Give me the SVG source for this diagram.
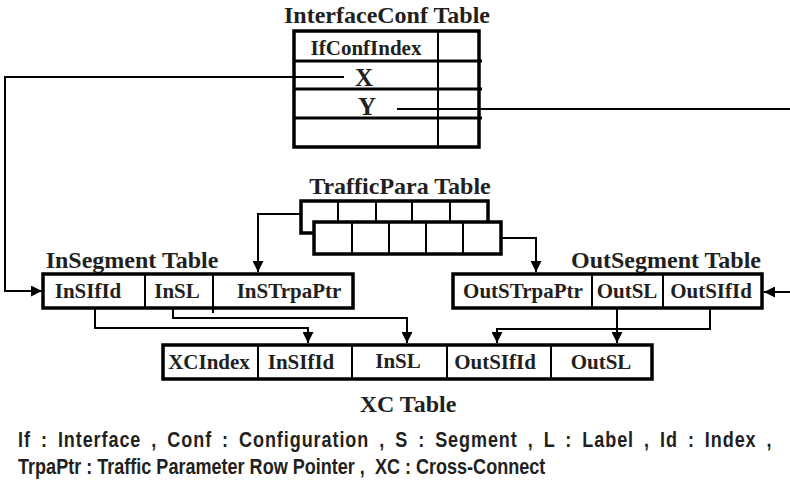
<svg xmlns="http://www.w3.org/2000/svg" width="790" height="483" viewBox="0 0 790 483">
<defs>
<marker id="arr" viewBox="0 0 10 10" refX="10" refY="5" markerWidth="11" markerHeight="11" markerUnits="userSpaceOnUse" orient="auto"><path d="M0,0 L10,5 L0,10 z" fill="#000"/></marker>
</defs>
<style>
.title{font-family:"Liberation Serif","Times New Roman",serif;font-weight:bold;font-size:24px;fill:#231f20;text-anchor:middle}
.cell{font-family:"Liberation Serif","Times New Roman",serif;font-weight:bold;font-size:21px;fill:#231f20;text-anchor:middle}
.big{font-size:25px}
.box{fill:#fff;stroke:#000;stroke-width:3.5}
.div{stroke:#000;stroke-width:2;fill:none}
.row{stroke:#000;stroke-width:3;fill:none}
.conn{stroke:#000;stroke-width:2;fill:none}
.arr{marker-end:url(#arr)}
.note{font-family:"Liberation Sans",Arial,sans-serif;font-weight:bold;font-size:22px;fill:#231f20}
</style>
<rect width="790" height="483" fill="#fff"/>

<g id="interfaceconf">
<text class="title" x="387" y="23">InterfaceConf Table</text>
<rect class="box" x="294" y="31" width="185" height="116"/>
<path class="row" d="M294,61 H482 M294,89 H482 M294,118 H482"/>
<path class="div" d="M438,31 V147"/>
<text class="cell" x="366" y="55">IfConfIndex</text>
<text class="cell big" x="364" y="86">X</text>
<text class="cell big" x="367" y="115">Y</text>
</g>

<g id="trafficpara">
<text class="title" x="400" y="194">TrafficPara Table</text>
<rect class="box" x="301" y="201" width="187" height="32"/>
<path class="div" d="M338,201 V222 M376,201 V222 M412,201 V222 M450,201 V222"/>
<rect class="box" x="314" y="222" width="187" height="32"/>
<path class="div" d="M352,222 V254 M389,222 V254 M426,222 V254 M463,222 V254"/>
</g>

<g id="insegment">
<text class="title" x="132" y="268">InSegment Table</text>
<rect class="box" x="43" y="274" width="310" height="34"/>
<path class="div" d="M145,274 V308 M213,274 V313"/>
<text class="cell" x="88" y="298">InSIfId</text>
<text class="cell" x="177" y="298">InSL</text>
<text class="cell" x="289" y="298">InSTrpaPtr</text>
</g>

<g id="outsegment">
<text class="title" x="666" y="268">OutSegment Table</text>
<rect class="box" x="453" y="274" width="309" height="34"/>
<path class="div" d="M592,274 V308 M663,274 V308"/>
<text class="cell" x="523" y="298">OutSTrpaPtr</text>
<text class="cell" x="627" y="298">OutSL</text>
<text class="cell" x="711" y="298">OutSIfId</text>
</g>

<g id="xc">
<rect class="box" x="163" y="345" width="489" height="34"/>
<path class="div" d="M258,345 V379 M352,345 V379 M447,345 V379 M551,345 V379"/>
<text class="cell" x="209" y="369">XCIndex</text>
<text class="cell" x="301" y="369">InSIfId</text>
<text class="cell" x="398" y="368">InSL</text>
<text class="cell" x="495" y="369">OutSIfId</text>
<text class="cell" x="601" y="369">OutSL</text>
<text class="title" x="408" y="412">XC Table</text>
</g>

<g id="connectors">
<path class="conn arr" d="M344,77 H5 V291 H42"/>
<path class="conn" d="M397,109 H790"/>
<path class="conn arr" d="M790,292 H764"/>
<path class="conn arr" d="M301,214 H258 V272"/>
<path class="conn arr" d="M501,238 H536 V272"/>
<path class="conn arr" d="M95,308 V328 H308 V343"/>
<path class="conn arr" d="M173,308 V318 H407 V343"/>
<path class="conn arr" d="M710,308 V329 H497 V343"/>
<path class="conn arr" d="M617,308 V343"/>
</g>

<g id="legend" transform="scale(0.82 1)">
<text class="note" x="22" y="447" word-spacing="5" textLength="919" lengthAdjust="spacing">If : Interface , Conf : Configuration , S : Segment , L : Label , Id : Index ,</text>
<text class="note" x="22" y="474" xml:space="preserve" textLength="643" lengthAdjust="spacingAndGlyphs">TrpaPtr : Traffic Parameter Row Pointer ,  XC : Cross-Connect</text>
</g>
</svg>
